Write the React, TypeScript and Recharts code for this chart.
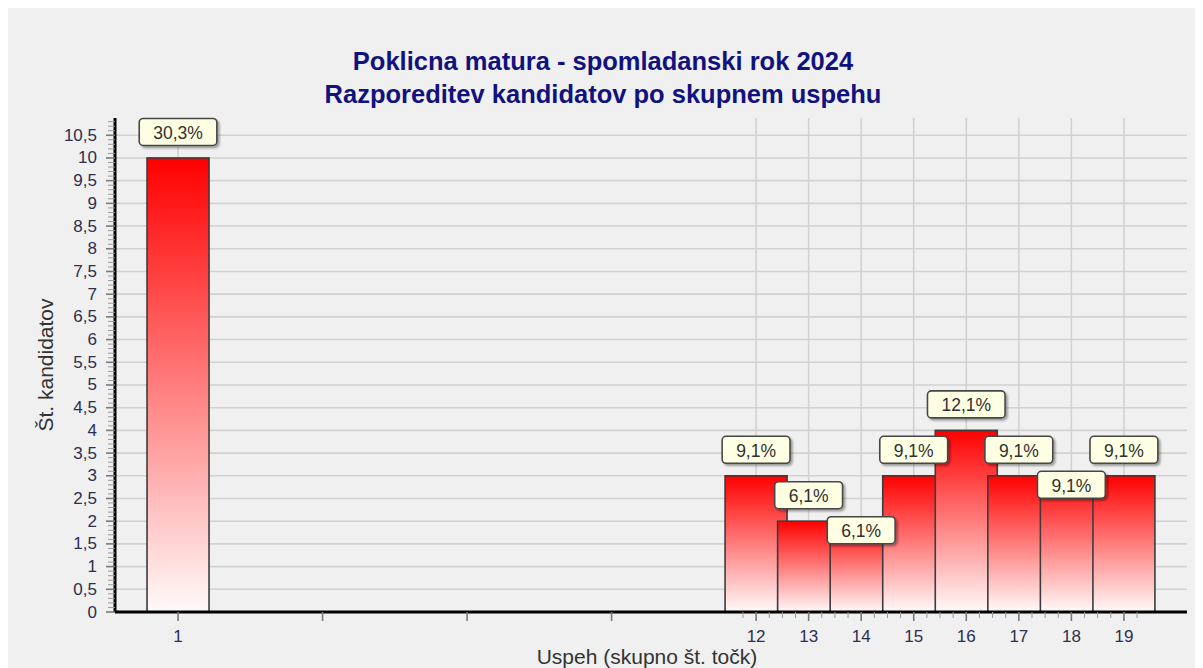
import { BarChart, Bar, XAxis, YAxis, CartesianGrid, LabelList, Label } from "recharts";

// skupno št. točk (x) and number of candidates (y)
const scores = [1, 12, 13, 14, 15, 16, 17, 18, 19];
const candidates = [10, 3, 2, 2, 3, 4, 3, 3, 3];
const shares = ["30,3%", "9,1%", "6,1%", "6,1%", "9,1%", "12,1%", "9,1%", "9,1%", "9,1%"];

const xTicks = [1, 3.75, 6.5, 9.25, 12, 13, 14, 15, 16, 17, 18, 19];
const yTicks = [0, 0.5, 1, 1.5, 2, 2.5, 3, 3.5, 4, 4.5, 5, 5.5, 6, 6.5, 7, 7.5, 8, 8.5, 9, 9.5, 10, 10.5];

const titleLines = ["Poklicna matura - spomladanski rok 2024", "Razporeditev kandidatov po skupnem uspehu"];
const xTitle = "Uspeh (skupno št. točk)";
const yTitle = "Št. kandidatov";

const data = scores.map((score, i) => ({ score, count: candidates[i], share: shares[i] }));

// small decorative ticks between the labelled ones
const yMinor = Array.from({ length: 109 }, (_, i) => Math.round(i * 10) / 100);
const xMinor = Array.from({ length: 31 }, (_, i) => 11.75 + i * 0.25);
const xAll = Array.from(new Set([...xTicks, ...xMinor])).sort((a, b) => a - b);

const FONT = "'Liberation Sans', Arial, sans-serif";
const BAR_W = 62;
const TICK = 9;
const GAP = 9;

const fmtNum = (v: number) => String(v).replace(".", ",");

function YTick(props: any) {
  const { x, y, payload } = props;
  const v = payload.value;
  const major = yTicks.includes(v);
  const ax = x + TICK + GAP;
  return (
    <g>
      <line x1={ax - (major ? TICK : 7)} x2={ax} y1={y} y2={y} stroke={major ? "#7a7a7a" : "#9a9a9a"} strokeWidth={major ? 1.6 : 1} />
      {major && (
        <text x={x} y={y} textAnchor="end" dominantBaseline="central" fontSize={17} fill="#2e2e50" fontFamily={FONT}>
          {fmtNum(v)}
        </text>
      )}
    </g>
  );
}

function XTick(props: any) {
  const { x, y, payload } = props;
  const v = payload.value;
  const major = xTicks.includes(v);
  const ay = y - TICK - GAP;
  return (
    <g>
      <line x1={x} x2={x} y1={ay} y2={ay + (major ? TICK : 6)} stroke={major ? "#7a7a7a" : "#9a9a9a"} strokeWidth={major ? 1.6 : 1} />
      {scores.includes(v) && (
        <text x={x} y={y} dy="0.71em" textAnchor="middle" fontSize={17} fill="#2e2e50" fontFamily={FONT}>
          {v}
        </text>
      )}
    </g>
  );
}

function GradientBar(props: any) {
  const { x, y, width, height } = props;
  if (height == null || height <= 0) return null;
  const cx = x + width / 2;
  return (
    <rect
      x={cx - BAR_W / 2}
      y={y}
      width={BAR_W}
      height={height}
      fill="url(#barFill)"
      stroke="#3c3c3c"
      strokeWidth={1.6}
    />
  );
}

// rough width of the label text, Arial metrics
const charW: Record<string, number> = { ",": 0.278, "%": 0.889 };
const textWidth = (s: string, size: number) =>
  s.split("").reduce((a, c) => a + (charW[c] ?? 0.556), 0) * size;

const placed: { x0: number; x1: number; y0: number; y1: number }[] = [];

function ShareLabel(props: any) {
  const { index, value } = props;
  const vb = props.viewBox ?? props;
  if (index === 0) placed.length = 0;
  const cx = vb.x + vb.width / 2;
  const top = vb.y;
  const w = textWidth(String(value), 17.5) + 28;
  const h = 27;
  let cy = top - 26;
  const prev = placed[placed.length - 1];
  const hits = (c: number) =>
    prev && cx - w / 2 < prev.x1 && cx + w / 2 > prev.x0 && c - h / 2 < prev.y1 && c + h / 2 > prev.y0;
  if (hits(cy)) cy = top + 9;
  placed.push({ x0: cx - w / 2, x1: cx + w / 2, y0: cy - h / 2, y1: cy + h / 2 });
  return (
    <g>
      <rect
        x={cx - w / 2}
        y={cy - h / 2}
        width={w}
        height={h}
        rx={4}
        fill="#ffffe3"
        stroke="#474747"
        strokeWidth={1.6}
        filter="url(#lblShadow)"
      />
      <text x={cx} y={cy + 1} textAnchor="middle" dominantBaseline="central" fontSize={17.5} fill="#303030" fontFamily={FONT}>
        {value}
      </text>
    </g>
  );
}

function YTitle(props: any) {
  const vb = props.viewBox;
  const x = vb.x + 38;
  const y = vb.y + vb.height / 2;
  return (
    <text x={x} y={y} transform={`rotate(-90 ${x} ${y})`} textAnchor="middle" dominantBaseline="central" fontSize={21} fill="#333" fontFamily={FONT}>
      {yTitle}
    </text>
  );
}

function XTitle(props: any) {
  const vb = props.viewBox;
  const x = vb.x + vb.width / 2 - 4;
  const y = vb.y + 44;
  return (
    <text x={x} y={y} textAnchor="middle" dominantBaseline="central" fontSize={21} fill="#333" fontFamily={FONT}>
      {xTitle}
    </text>
  );
}

export default function App() {
  return (
    <div style={{ position: "relative", width: 1196, height: 660, marginLeft: -1, background: "#f0f0f0", fontFamily: FONT }}>
      <div
        style={{
          position: "absolute",
          top: 37,
          left: 0,
          width: 1192,
          textAlign: "center",
          color: "#12127e",
          fontWeight: "bold",
          fontSize: 25.5,
          lineHeight: "33px",
        }}
      >
        {titleLines.map((t) => (
          <div key={t}>{t}</div>
        ))}
      </div>
      <div style={{ position: "absolute", top: 0, left: 0 }}>
        <BarChart width={1196} height={660} data={data} margin={{ top: 110, right: 16, bottom: 0, left: 0 }}>
          <defs>
            <linearGradient id="barFill" x1="0" y1="0" x2="0" y2="1">
              <stop offset="0%" stopColor="#ff0000" />
              <stop offset="100%" stopColor="#fffafa" />
            </linearGradient>
            <filter id="lblShadow" x="-20%" y="-30%" width="150%" height="170%">
              <feDropShadow dx={2} dy={2} stdDeviation={1.2} floodColor="#000" floodOpacity={0.35} />
            </filter>
          </defs>
          <XAxis
            xAxisId="main"
            type="number"
            dataKey="score"
            domain={[-0.2, 20.2]}
            ticks={xAll}
            interval={0}
            tick={XTick}
            tickSize={TICK}
            tickMargin={GAP}
            tickLine={false}
            axisLine={{ stroke: "#000", strokeWidth: 3 }}
            height={56}
            allowDataOverflow
          >
            <Label content={XTitle} />
          </XAxis>
          <YAxis
            yAxisId="main"
            type="number"
            domain={[0, 10.88]}
            ticks={yMinor}
            interval={0}
            tick={YTick}
            tickSize={TICK}
            tickMargin={GAP}
            tickLine={false}
            axisLine={{ stroke: "#000", strokeWidth: 3 }}
            width={108}
            allowDataOverflow
          >
            <Label content={YTitle} />
          </YAxis>
          <XAxis
            xAxisId="top"
            orientation="top"
            type="number"
            domain={[-0.2, 20.2]}
            tick={false}
            tickLine={false}
            axisLine={{ stroke: "#6e6e6e", strokeWidth: 2 }}
            height={0}
          />
          <YAxis
            yAxisId="right"
            orientation="right"
            type="number"
            domain={[0, 10.88]}
            tick={false}
            tickLine={false}
            axisLine={{ stroke: "#6e6e6e", strokeWidth: 2 }}
            width={0}
          />
          <CartesianGrid
            xAxisId="main"
            yAxisId="main"
            stroke="#d2d2d2"
            strokeWidth={1.6}
            horizontalValues={yTicks}
            verticalValues={scores}
          />
          <Bar
            xAxisId="main"
            yAxisId="main"
            dataKey="count"
            shape={GradientBar}
            isAnimationActive={false}
          >
            <LabelList dataKey="share" content={ShareLabel} />
          </Bar>
        </BarChart>
      </div>
    </div>
  );
}
